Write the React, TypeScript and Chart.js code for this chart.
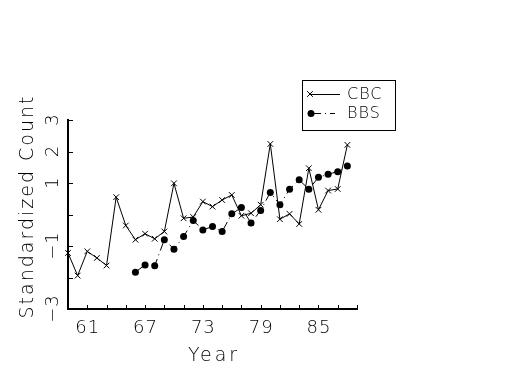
import React, { useEffect, useRef } from "react";
import { Chart, registerables } from "chart.js";

Chart.register(...registerables);

const cbcYears = [59, 60, 61, 62, 63, 64, 65, 66, 67, 68, 69, 70, 71, 72, 73, 74, 75, 76, 77, 78, 79, 80, 81, 82, 83, 84, 85, 86, 87, 88];
const cbcValues = [-1.22, -1.94, -1.17, -1.38, -1.62, 0.55, -0.35, -0.8, -0.61, -0.77, -0.54, 0.99, -0.12, -0.08, 0.41, 0.25, 0.46, 0.62, -0.04, 0.04, 0.31, 2.24, -0.15, 0.02, -0.3, 1.47, 0.15, 0.76, 0.81, 2.21];
const bbsYears = [66, 67, 68, 69, 70, 71, 72, 73, 74, 75, 76, 77, 78, 79, 80, 81, 82, 83, 84, 85, 86, 87, 88];
const bbsValues = [-1.83, -1.6, -1.63, -0.8, -1.1, -0.7, -0.19, -0.49, -0.38, -0.54, 0.02, 0.22, -0.27, 0.13, 0.7, 0.31, 0.8, 1.1, 0.8, 1.18, 1.28, 1.36, 1.54];
const seriesNames = ["CBC", "BBS"];
const xTickLabels = [61, 67, 73, 79, 85];
const yTickLabels = [3, 2, 1, -1, -3];
const xTitle = "Year";
const yTitle = "Standardized Count";

const FONT = "'DejaVu Sans', 'Liberation Sans', sans-serif";
const WEIGHT = "200";
const BBS_DASH = [10, 4, 1, 4];

function fmt(v: number) {
  return v < 0 ? "\u2212" + Math.abs(v) : String(v);
}

const decorPlugin = {
  id: "decor",
  afterDraw(chart: any) {
    const ctx = chart.ctx as CanvasRenderingContext2D;
    const xs = chart.scales.x;
    const ys = chart.scales.y;
    const area = chart.chartArea;
    ctx.save();
    ctx.strokeStyle = "#000";
    ctx.fillStyle = "#000";
    ctx.lineWidth = 1;
    // inward tick marks
    ctx.beginPath();
    xs.ticks.forEach((t: any) => {
      const px = Math.round(xs.getPixelForValue(t.value)) + 0.5;
      ctx.moveTo(px, area.bottom);
      ctx.lineTo(px, area.bottom - 4);
    });
    ys.ticks.forEach((t: any) => {
      const py = Math.round(ys.getPixelForValue(t.value)) + 0.5;
      ctx.moveTo(area.left, py);
      ctx.lineTo(area.left + 5, py);
    });
    ctx.stroke();

    // x tick labels
    ctx.font = `${WEIGHT} 18px ${FONT}`;
    ctx.textAlign = "center";
    ctx.textBaseline = "alphabetic";
    (ctx as any).letterSpacing = "1px";
    xTickLabels.forEach((v) => {
      ctx.fillText(fmt(v), xs.getPixelForValue(v) + 0.5, area.bottom + 24);
    });
    // y tick labels (rotated)
    yTickLabels.forEach((v) => {
      ctx.save();
      ctx.translate(area.left - 10, ys.getPixelForValue(v));
      ctx.rotate(-Math.PI / 2);
      ctx.fillText(fmt(v), 0.5, 0);
      ctx.restore();
    });
    // axis titles
    ctx.font = `${WEIGHT} 19px ${FONT}`;
    (ctx as any).letterSpacing = "3px";
    ctx.fillText(xTitle, (area.left + area.right) / 2 + 1.5, area.bottom + 52);
    (ctx as any).letterSpacing = "2px";
    ctx.save();
    ctx.translate(area.left - 35, (area.top + area.bottom) / 2 - 7);
    ctx.rotate(-Math.PI / 2);
    ctx.fillText(yTitle, 1, 0);
    ctx.restore();
    (ctx as any).letterSpacing = "0px";

    // legend
    const lx = area.right - 55;
    const ly = area.top - 40;
    ctx.strokeRect(lx + 0.5, ly + 0.5, 93, 50);
    ctx.font = `${WEIGHT} 16px ${FONT}`;
    (ctx as any).letterSpacing = "1px";
    ctx.textAlign = "left";
    ctx.textBaseline = "middle";
    // CBC
    const y1 = ly + 14;
    ctx.beginPath();
    ctx.moveTo(lx + 8, y1 + 0.5);
    ctx.lineTo(lx + 38, y1 + 0.5);
    ctx.stroke();
    const r = 4 * Math.SQRT1_2;
    ctx.beginPath();
    ctx.moveTo(lx + 8 - r, y1 - r);
    ctx.lineTo(lx + 8 + r, y1 + r);
    ctx.moveTo(lx + 8 - r, y1 + r);
    ctx.lineTo(lx + 8 + r, y1 - r);
    ctx.stroke();
    ctx.fillText(seriesNames[0], lx + 45, y1 + 1);
    // BBS
    const y2 = ly + 33;
    ctx.setLineDash(BBS_DASH);
    ctx.beginPath();
    ctx.moveTo(lx + 9, y2 + 0.5);
    ctx.lineTo(lx + 33, y2 + 0.5);
    ctx.stroke();
    ctx.setLineDash([]);
    ctx.beginPath();
    ctx.arc(lx + 9, y2 + 0.5, 3.5, 0, Math.PI * 2);
    ctx.fill();
    ctx.fillText(seriesNames[1], lx + 45, y2 + 1);
    (ctx as any).letterSpacing = "0px";
    ctx.restore();
  },
};

export default function App() {
  const ref = useRef<HTMLCanvasElement>(null);
  useEffect(() => {
    if (!ref.current) return;
    const chart = new Chart(ref.current, {
      type: "line",
      data: {
        datasets: [
          {
            label: seriesNames[0],
            data: cbcYears.map((x, i) => ({ x, y: cbcValues[i] })),
            borderColor: "#000",
            borderWidth: 1,
            pointStyle: "crossRot",
            pointRadius: 4,
            pointBorderColor: "#000",
            pointBorderWidth: 1,
            pointBackgroundColor: "#000",
            tension: 0,
            clip: false,
          },
          {
            label: seriesNames[1],
            data: bbsYears.map((x, i) => ({ x, y: bbsValues[i] })),
            borderColor: "#000",
            borderWidth: 1,
            borderDash: BBS_DASH,
            pointStyle: "circle",
            pointRadius: 3.5,
            pointBorderColor: "#000",
            pointBorderWidth: 0,
            pointBackgroundColor: "#000",
            tension: 0,
            clip: false,
          },
        ],
      },
      options: {
        responsive: false,
        animation: false,
        layout: { padding: { left: 0, top: 120, right: 168, bottom: 0 } },
        plugins: { legend: { display: false }, tooltip: { enabled: false } },
        scales: {
          x: {
            type: "linear",
            min: 59,
            max: 89,
            ticks: { stepSize: 2, display: false },
            grid: { display: false },
            border: { display: true, color: "#000", width: 2 },
            afterFit: (s: any) => {
              s.height = 66;
            },
          },
          y: {
            type: "linear",
            min: -3,
            max: 3,
            ticks: { stepSize: 1, display: false },
            grid: { display: false },
            border: { display: true, color: "#000", width: 2 },
            afterFit: (s: any) => {
              s.width = 68;
            },
          },
        },
      },
      plugins: [decorPlugin],
    });
    return () => chart.destroy();
  }, []);
  return (
    <div style={{ position: "fixed", left: 0, top: 0, width: 525, height: 375, background: "#fff" }}>
      <canvas ref={ref} width={525} height={375} />
    </div>
  );
}
